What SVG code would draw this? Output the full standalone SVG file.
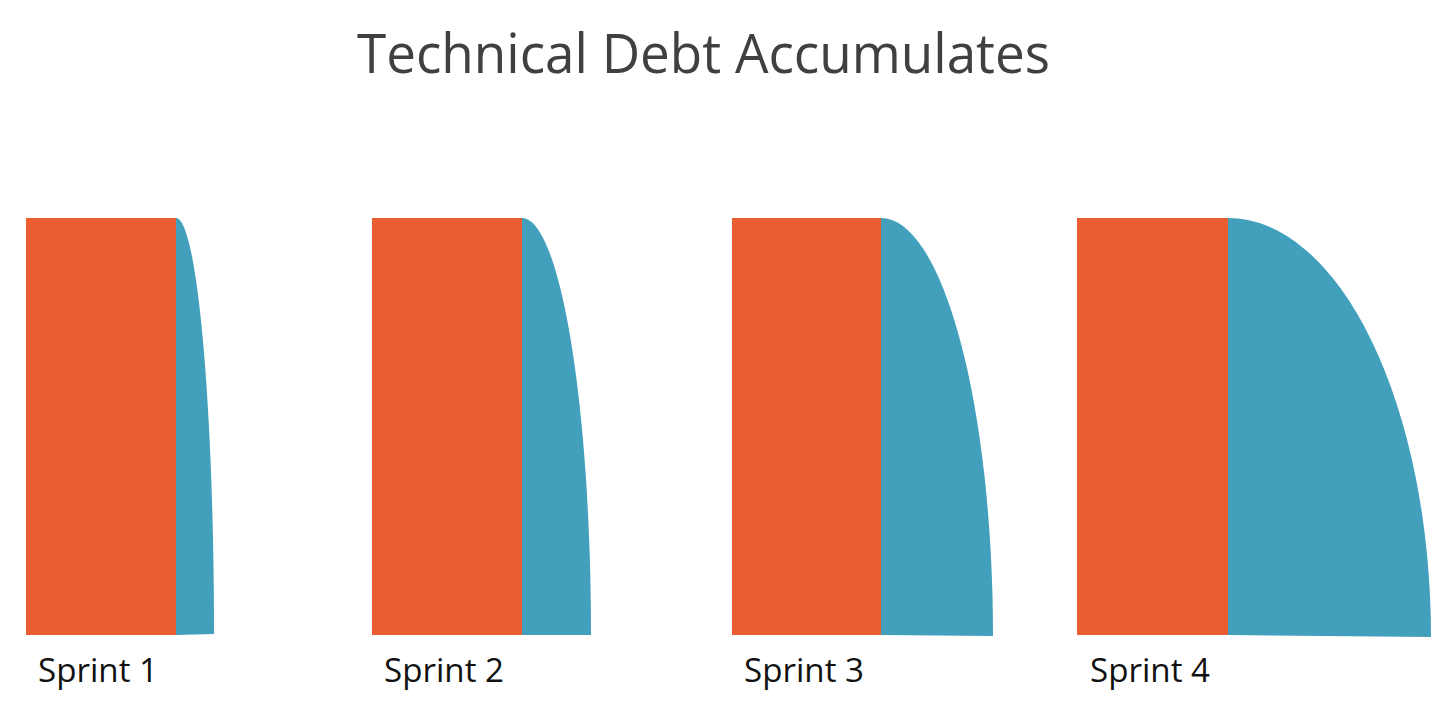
<svg xmlns="http://www.w3.org/2000/svg" width="1449" height="710" viewBox="0 0 1449 710">
<style>
.t{font-family:"Open Sans","Noto Sans","Liberation Sans",sans-serif;fill:#404040}
.w{fill:#E95D30}
.d{fill:#42A0BD}
.l{font-family:"Open Sans","Noto Sans","Liberation Sans",sans-serif;fill:#111;font-size:33px}
</style>
<rect width="1449" height="710" fill="#fff"/>
<text class="t" x="357" y="73" font-size="54" textLength="693" lengthAdjust="spacingAndGlyphs">Technical Debt Accumulates</text>
<g id="sprint1">
<rect class="w" x="26" y="218" width="150" height="417"/>
<path class="d" d="M176,218 A38,416 0 0 1 214,634 L176,635 Z"/>
<text class="l" x="38" y="682" textLength="120" lengthAdjust="spacingAndGlyphs">Sprint 1</text>
</g>
<g id="sprint2">
<rect class="w" x="372" y="218" width="150" height="417"/>
<path class="d" d="M522,218 A69,417 0 0 1 591,635 L522,635 Z"/>
<text class="l" x="384" y="682" textLength="120" lengthAdjust="spacingAndGlyphs">Sprint 2</text>
</g>
<g id="sprint3">
<rect class="w" x="732" y="218" width="149" height="417"/>
<path class="d" d="M881,218 A112,418 0 0 1 993,636 L881,635 Z"/>
<text class="l" x="744" y="682" textLength="120" lengthAdjust="spacingAndGlyphs">Sprint 3</text>
</g>
<g id="sprint4">
<rect class="w" x="1077" y="218" width="151" height="417"/>
<path class="d" d="M1228,218 A203,419 0 0 1 1431,637 L1228,635 Z"/>
<text class="l" x="1090" y="682" textLength="120" lengthAdjust="spacingAndGlyphs">Sprint 4</text>
</g>
<g id="connectors"/>
</svg>
